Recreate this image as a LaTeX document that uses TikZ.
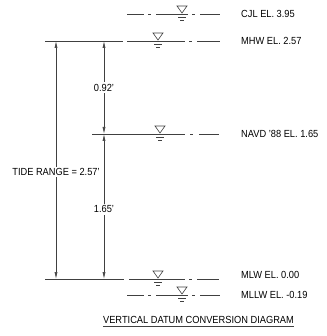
\documentclass[tikz,border=0pt]{standalone}
\usepackage{fontspec}
\setmainfont{Liberation Sans}[FakeStretch=0.9]
\usetikzlibrary{arrows.meta}
\begin{document}
\begin{tikzpicture}[x=1pt,y=-1pt,
  ln/.style={line width=0.6pt, draw=black!75},
  lbl/.style={anchor=west, inner sep=0pt, font=\fontsize{10.3}{12}\selectfont},
  dim/.style={ln, {Latex[length=7pt,width=3pt]}-{Latex[length=7pt,width=3pt]}},
  dlbl/.style={fill=white, inner sep=1.5pt, font=\fontsize{10.3}{12}\selectfont},
  water/.pic={\draw[ln] (-5,-8) -- (5,-8) -- (0,-1) -- cycle;
              \draw[ln] (-4,3) -- (4,3);
              \draw[ln] (-2,6) -- (2,6);}
]
\useasboundingbox (0,0) rectangle (326,336);

% CJL
\draw[ln] (127,14) -- (144,14) (148,14) -- (151,14) (156,14) -- (188,14) (192,14) -- (195,14) (200,14) -- (220,14);
\pic at (182,14) {water};
\node[lbl] (cjl) at (241,14) {CJL EL. 3.95};

% MHW
\draw[ln] (45,41) -- (123,41) (127,41) -- (185,41) (189,41) -- (192,41) (197,41) -- (220,41);
\pic at (158,41) {water};
\node[lbl] (mhw) at (241,41) {MHW EL. 2.57};

% NAVD
\draw[ln] (92,134) -- (185,134) (190,134) -- (193,134) (199,134) -- (219,134);
\pic at (160,134) {water};
\node[lbl] (navd) at (241,134) {NAVD '88 EL. 1.65};

% MLW
\draw[ln] (45,279) -- (124,279) (129,279) -- (185,279) (189,279) -- (192,279) (197,279) -- (219,279);
\pic at (158,279) {water};
\node[lbl] (mlw) at (241,275) {MLW EL. 0.00};

% MLLW
\draw[ln] (127,295) -- (144,295) (148,295) -- (151,295) (156,295) -- (188,295) (192,295) -- (195,295) (200,295) -- (220,295);
\pic at (182,295) {water};
\node[lbl] (mllw) at (241,295) {MLLW EL. -0.19};

% dimension coordinates
\coordinate (ta) at (56,41);
\coordinate (tb) at (56,279);
\coordinate (ra) at (104,41);
\coordinate (rb) at (104,134);
\coordinate (rc) at (104,279);

\draw[dim] (ta) -- node[dlbl, pos=0.55] (tide) {TIDE RANGE = 2.57'} (tb);
\draw[dim] (ra) -- node[dlbl] (d1) {0.92'} (rb);
\draw[dim] (rb) -- node[dlbl, pos=0.52] (d2) {1.65'} (rc);

% title
\node[inner sep=0pt, font=\fontsize{10.3}{12}\selectfont] (title) at (198.5,320) {VERTICAL DATUM CONVERSION DIAGRAM};
\draw[ln] ([yshift=-2pt]title.south west) -- ([yshift=-2pt]title.south east);
\end{tikzpicture}
\end{document}
